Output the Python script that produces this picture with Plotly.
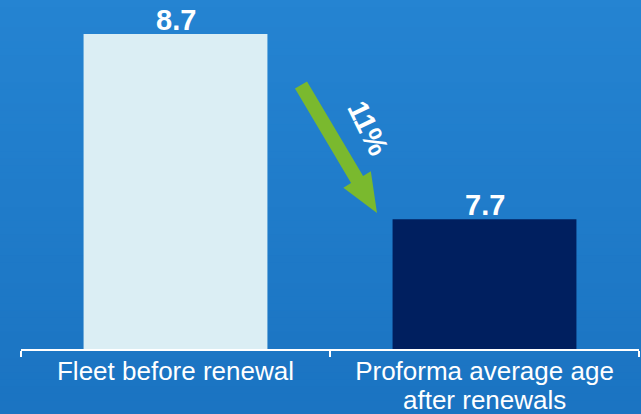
import numpy as np
import plotly.graph_objects as go

# Data
categories = ["Fleet before renewal", "Proforma average age"]
category_sublines = ["", "after renewals"]
avg_age = [8.7, 7.7]
bar_colors = ["#dbeef4", "#001f5f"]
change_label = f"{round((avg_age[0] - avg_age[1]) / avg_age[0] * 100)}%"

W, H = 641, 414
ML, MR, MT, MB = 21, 2, 0, 65
PW, PH = W - ML - MR, H - MT - MB


def px_to_paper(px, py):
    return (px - ML) / PW, (H - MB - py) / PH


fig = go.Figure()
fig.add_trace(go.Bar(
    x=categories, y=avg_age, marker=dict(color=bar_colors, line=dict(width=0)),
    hoverinfo="skip",
))

shapes = []
# vertical background gradient
n_bands = 60
top = np.array([37, 132, 210])
bot = np.array([27, 116, 194])
for i in range(n_bands):
    t = i / (n_bands - 1)
    c = top + (bot - top) * t
    y0p = i * H / n_bands
    y1p = (i + 1) * H / n_bands + 1
    x0, y0 = px_to_paper(0, y0p)
    x1, y1 = px_to_paper(W, y1p)
    shapes.append(dict(type="rect", xref="paper", yref="paper", x0=x0, x1=x1, y0=y1, y1=y0,
                       fillcolor=f"rgb({int(c[0])},{int(c[1])},{int(c[2])})",
                       line=dict(width=0), layer="below"))

# green arrow pointing from the first bar down to the second
start = np.array([301.0, 85.0])
tip = np.array([377.0, 213.0])
shaft_hw, head_hw, head_len = 7.0, 16.0, 39.0
u = (tip - start) / np.linalg.norm(tip - start)
n = np.array([-u[1], u[0]])
base = tip - head_len * u
pts = [start + shaft_hw * n, base + shaft_hw * n, base + head_hw * n, tip,
       base - head_hw * n, base - shaft_hw * n, start - shaft_hw * n]
path = "M " + " L ".join(f"{px_to_paper(*p)[0]:.5f},{px_to_paper(*p)[1]:.5f}" for p in pts) + " Z"
shapes.append(dict(type="path", xref="paper", yref="paper", path=path,
                   fillcolor="#7ab92e", line=dict(width=0), layer="above"))

annotations = []
for cat, v in zip(categories, avg_age):
    annotations.append(dict(x=cat, y=v, xref="x", yref="y", text=f"<b>{v:.1f}</b>",
                            showarrow=False, yanchor="bottom", yshift=-4,
                            font=dict(family="Liberation Sans, Arial", size=29, color="white")))

# second line of the category labels, set tighter than the default line spacing
_, sub_y = px_to_paper(0, H)
for cat, sub in zip(categories, category_sublines):
    if sub:
        annotations.append(dict(x=cat, y=sub_y, xref="x", yref="paper", text=sub,
                                showarrow=False, yanchor="bottom", yshift=-3,
                                font=dict(family="Liberation Sans, Arial", size=26, color="white")))

ax_, ay_ = px_to_paper(368, 128)
annotations.append(dict(x=ax_, y=ay_, xref="paper", yref="paper", text=f"<b>{change_label}</b>",
                        showarrow=False, textangle=64, xanchor="center", yanchor="middle",
                        font=dict(family="Liberation Sans, Arial", size=29, color="white")))

fig.update_layout(
    width=W, height=H,
    margin=dict(l=ML, r=MR, t=MT, b=MB, pad=0, autoexpand=False),
    paper_bgcolor="#1f7ac7", plot_bgcolor="rgba(0,0,0,0)",
    bargap=0.405, showlegend=False,
    shapes=shapes, annotations=annotations,
    xaxis=dict(showline=True, linecolor="white", linewidth=1.5, ticks="outside",
               tickson="boundaries", ticklen=6, tickcolor="white", tickwidth=1.5,
               ticklabelstandoff=-2,
               showgrid=False, zeroline=False, automargin=False,
               tickfont=dict(family="Liberation Sans, Arial", size=26, color="white")),
    yaxis=dict(range=[7.0, 7.0 + (8.7 - 7.0) * PH / (PH - 34)], visible=False, showgrid=False,
               automargin=False),
)

fig.write_html("out.html")
